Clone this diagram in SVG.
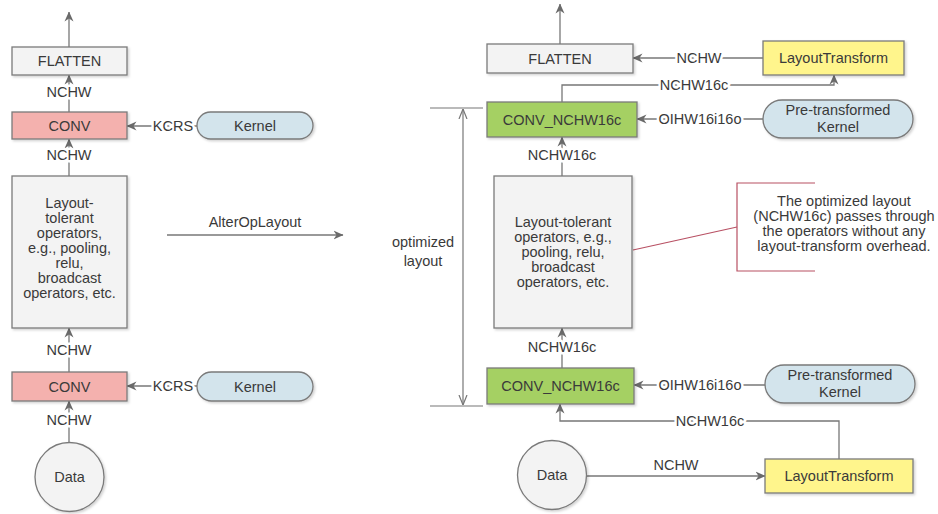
<svg xmlns="http://www.w3.org/2000/svg" width="938" height="514" viewBox="0 0 938 514">
<style>
text{font-family:"Liberation Sans",Arial,sans-serif;font-size:14.5px;fill:#3a3a3a;text-anchor:middle;dominant-baseline:central}
.lbl{paint-order:stroke;stroke:#fff;stroke-width:5px;stroke-linejoin:round}
.box{stroke:#7a7a7a;stroke-width:1.3;filter:url(#sh)}
.gray{fill:#f3f3f3}
.pink{fill:#f4b1ae}
.blue{fill:#d3e4ec}
.green{fill:#a5d063}
.yellow{fill:#fff58c}
.edge{fill:none;stroke:#777;stroke-width:1.3}
.meas{fill:none;stroke:#777;stroke-width:1.2}
.note{fill:none;stroke:#b85063;stroke-width:1.2}
</style>
<defs>
<filter id="sh" x="-10%" y="-10%" width="130%" height="130%"><feDropShadow dx="1.5" dy="1.5" stdDeviation="1" flood-color="#000" flood-opacity="0.18"/></filter>
<marker id="ah" viewBox="0 0 10 10" refX="9.5" refY="5" markerWidth="10" markerHeight="10" orient="auto-start-reverse" markerUnits="userSpaceOnUse"><path d="M0,0.5 L10,5 L0,9.5 L3,5 z" fill="#6a6a6a"/></marker>
<marker id="oh" viewBox="0 0 10 10" refX="10" refY="5" markerWidth="10" markerHeight="10" orient="auto-start-reverse" markerUnits="userSpaceOnUse"><path d="M0,1 L10,5 L0,9" fill="none" stroke="#777" stroke-width="1.2"/></marker>
</defs>

<g id="connectors">
  <line class="edge" x1="69" y1="47" x2="69" y2="12" marker-end="url(#ah)"/>
  <line class="edge" x1="69" y1="112" x2="69" y2="75" marker-end="url(#ah)"/>
  <line class="edge" x1="197" y1="126" x2="127" y2="126" marker-end="url(#ah)"/>
  <line class="edge" x1="69" y1="176" x2="69" y2="139" marker-end="url(#ah)"/>
  <line class="edge" x1="69" y1="372" x2="69" y2="328" marker-end="url(#ah)"/>
  <line class="edge" x1="197" y1="386" x2="127" y2="386" marker-end="url(#ah)"/>
  <line class="edge" x1="69" y1="442" x2="69" y2="401" marker-end="url(#ah)"/>
  <line class="edge" x1="167" y1="235" x2="343" y2="235" marker-end="url(#ah)"/>
  <line class="edge" x1="560" y1="44" x2="560" y2="4" marker-end="url(#ah)"/>
  <line class="edge" x1="763" y1="58" x2="633" y2="58" marker-end="url(#ah)"/>
  <path class="edge" d="M562,102 V85 H834 V75" marker-end="url(#ah)"/>
  <line class="edge" x1="763" y1="119" x2="637" y2="119" marker-end="url(#ah)"/>
  <line class="edge" x1="562" y1="176" x2="562" y2="137" marker-end="url(#ah)"/>
  <line class="edge" x1="562" y1="368" x2="562" y2="328" marker-end="url(#ah)"/>
  <line class="edge" x1="765" y1="385" x2="634" y2="385" marker-end="url(#ah)"/>
  <path class="edge" d="M839,459 V421 H560 V404" marker-end="url(#ah)"/>
  <line class="edge" x1="586.5" y1="476" x2="765" y2="476" marker-end="url(#ah)"/>
  <line class="meas" x1="430" y1="108" x2="483" y2="108"/>
  <line class="meas" x1="430" y1="406" x2="483" y2="406"/>
  <line class="meas" x1="463" y1="109" x2="463" y2="405" marker-start="url(#oh)" marker-end="url(#oh)"/>
  <path class="note" d="M815,183 H737 V271 H815"/>
  <line class="note" x1="737" y1="227" x2="633" y2="250"/>
</g>

<g id="labels">
  <text class="lbl" x="69" y="92">NCHW</text>
  <text class="lbl" x="173" y="126">KCRS</text>
  <text class="lbl" x="69" y="155">NCHW</text>
  <text class="lbl" x="69" y="350">NCHW</text>
  <text class="lbl" x="173" y="386">KCRS</text>
  <text class="lbl" x="69" y="420">NCHW</text>
  <text x="255" y="222">AlterOpLayout</text>
  <text class="lbl" x="699" y="58">NCHW</text>
  <text class="lbl" x="694" y="85">NCHW16c</text>
  <text class="lbl" x="700" y="119">OIHW16i16o</text>
  <text class="lbl" x="562" y="155">NCHW16c</text>
  <text class="lbl" x="562" y="347">NCHW16c</text>
  <text class="lbl" x="700" y="385">OIHW16i16o</text>
  <text class="lbl" x="710" y="421">NCHW16c</text>
  <text x="676" y="465">NCHW</text>
  <text x="423" y="242">optimized</text>
  <text x="423" y="261">layout</text>
  <text x="844" y="201">The optimized layout</text>
  <text x="844" y="216">(NCHW16c) passes through</text>
  <text x="844" y="231">the operators without any</text>
  <text x="844" y="246">layout-transform overhead.</text>
</g>

<g id="flatten-left"><rect class="box gray" x="12" y="47" width="115" height="28"/><text x="69.5" y="61">FLATTEN</text></g>
<g id="conv-left-top"><rect class="box pink" x="12" y="112" width="115" height="27"/><text x="69.5" y="126">CONV</text></g>
<g id="kernel-left-top"><rect class="box blue" x="197" y="112" width="116" height="27" rx="13.5"/><text x="255" y="126">Kernel</text></g>
<g id="ops-left"><rect class="box gray" x="12" y="176" width="115" height="152"/>
  <text x="69.5" y="203">Layout-</text><text x="69.5" y="218">tolerant</text><text x="69.5" y="233">operators,</text><text x="69.5" y="248">e.g., pooling,</text><text x="69.5" y="263">relu,</text><text x="69.5" y="278">broadcast</text><text x="69.5" y="293">operators, etc.</text></g>
<g id="conv-left-bottom"><rect class="box pink" x="12" y="372" width="115" height="29"/><text x="69.5" y="386.5">CONV</text></g>
<g id="kernel-left-bottom"><rect class="box blue" x="197" y="372" width="116" height="29" rx="14.5"/><text x="255" y="386.5">Kernel</text></g>
<g id="data-left"><circle class="box gray" cx="69.5" cy="477" r="34.5"/><text x="69.5" y="477">Data</text></g>

<g id="flatten-right"><rect class="box gray" x="487" y="44" width="146" height="29"/><text x="560" y="58.5">FLATTEN</text></g>
<g id="layouttransform-top"><rect class="box yellow" x="763" y="41" width="141" height="34"/><text x="833.5" y="58">LayoutTransform</text></g>
<g id="conv-right-top"><rect class="box green" x="487" y="102" width="150" height="35"/><text x="562" y="119.5">CONV_NCHW16c</text></g>
<g id="pkernel-top"><rect class="box blue" x="763" y="100" width="150" height="38" rx="19"/><text x="838" y="109.5">Pre-transformed</text><text x="838" y="127">Kernel</text></g>
<g id="ops-right"><rect class="box gray" x="494" y="176" width="138" height="152"/>
  <text x="563" y="222">Layout-tolerant</text><text x="563" y="237">operators, e.g.,</text><text x="563" y="252">pooling, relu,</text><text x="563" y="267">broadcast</text><text x="563" y="282">operators, etc.</text></g>
<g id="conv-right-bottom"><rect class="box green" x="487" y="368" width="147" height="36"/><text x="560.5" y="386">CONV_NCHW16c</text></g>
<g id="pkernel-bottom"><rect class="box blue" x="765" y="365" width="150" height="38" rx="19"/><text x="840" y="374.5">Pre-transformed</text><text x="840" y="392">Kernel</text></g>
<g id="data-right"><circle class="box gray" cx="552" cy="475" r="34.5"/><text x="552" y="475">Data</text></g>
<g id="layouttransform-bottom"><rect class="box yellow" x="765" y="459" width="148" height="34"/><text x="839" y="476">LayoutTransform</text></g>
</svg>
